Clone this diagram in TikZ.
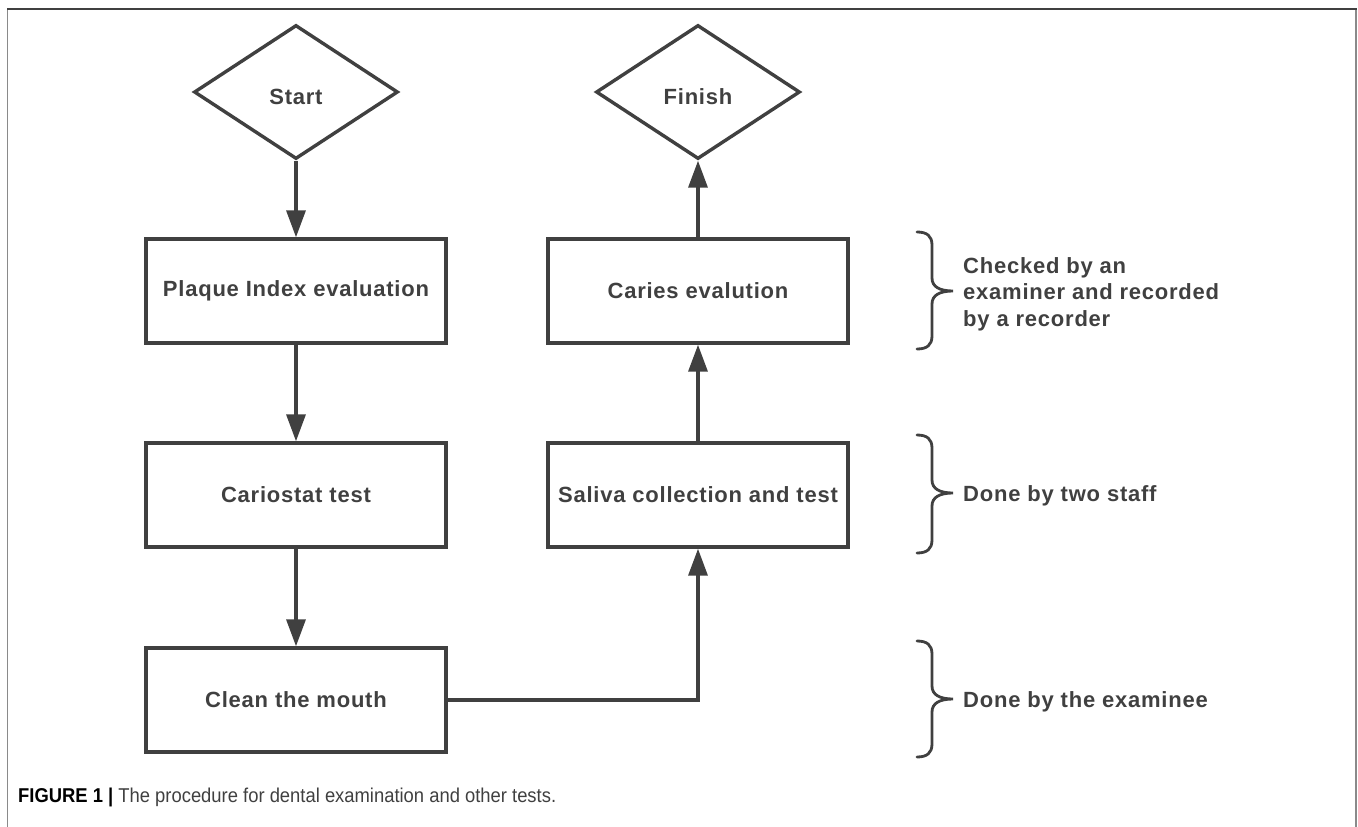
\documentclass[tikz,border=0pt]{standalone}
\usepackage{fontspec}
\setmainfont{Liberation Sans}
\newfontfamily\boxfont[LetterSpace=3.5]{Liberation Sans}
\newfontfamily\capfont[FakeStretch=0.92]{Liberation Sans}
\usetikzlibrary{shapes.geometric,arrows.meta}
\definecolor{dk}{HTML}{404040}
\definecolor{fr}{HTML}{8A8A8A}
\tikzset{
  procbox/.style={draw=dk, line width=3.4pt, minimum width=300pt, minimum height=104pt, inner sep=0pt,
    font=\boxfont\bfseries\fontsize{22}{26}\selectfont, text=dk},
  termbox/.style={diamond, draw=dk, line width=3.4pt, minimum width=204pt, minimum height=134pt, aspect=1.52, inner sep=0pt,
    font=\boxfont\bfseries\fontsize{22}{26}\selectfont, text=dk},
  conn/.style={draw=dk, line width=3.4pt},
  arr/.style={conn, -{Triangle[length=27pt,width=19pt]}},
  brace/.style={draw=dk, line width=2.8pt, line cap=round},
  lbl/.style={anchor=west, inner sep=0pt, align=left, text=dk,
    font=\boxfont\bfseries\fontsize{22}{26.5}\selectfont},
}
\begin{document}
\begin{tikzpicture}[x=1pt,y=-1pt]
\useasboundingbox (0,0) rectangle (1358,827);
% frame
\draw[fr, line width=1.8pt] (7.5,9) -- (7.5,827);
\draw[fr, line width=1.8pt] (1356,9) -- (1356,827);
\draw[dk, line width=1.8pt] (7,9) -- (1357,9);

% nodes
\node[termbox] (start) at (296,92) {};
\node[text=dk, font=\boxfont\bfseries\fontsize{22}{26}\selectfont] (starttxt) at (296,97) {Start};
\node[termbox] (finish) at (698,92) {};
\node[text=dk, font=\boxfont\bfseries\fontsize{22}{26}\selectfont] (finishtxt) at (698,97) {Finish};
\node[procbox] (plaque) at (296,291) {Plaque Index evaluation};
\node[procbox] (cario) at (296,495) {Cariostat test};
\node[procbox] (clean) at (296,700) {Clean the mouth};
\node[procbox] (caries) at (698,291) {Caries evalution};
\node[procbox] (saliva) at (698,495) {Saliva collection and test};

% connectors
\draw[arr] (start.south) -- (plaque.north);
\draw[arr] (plaque.south) -- (cario.north);
\draw[arr] (cario.south) -- (clean.north);
\draw[arr] (clean.east) -| (saliva.south);
\draw[arr] (saliva.north) -- (caries.south);
\draw[arr] (caries.north) -- (finish.south);

% braces
\draw[brace] (917,232) .. controls (927,232) and (932,236) .. (932,245) -- (932,278)
  .. controls (932,287) and (940,291) .. (953,291)
  .. controls (940,291) and (932,295) .. (932,304) -- (932,336)
  .. controls (932,345) and (927,349) .. (917,349);
\draw[brace] (917,435) .. controls (927,435) and (932,439) .. (932,448) -- (932,480)
  .. controls (932,489) and (940,493) .. (953,493)
  .. controls (940,493) and (932,497) .. (932,506) -- (932,540)
  .. controls (932,549) and (927,553) .. (917,553);
\draw[brace] (917,641) .. controls (927,641) and (932,645) .. (932,654) -- (932,686)
  .. controls (932,695) and (940,699) .. (953,699)
  .. controls (940,699) and (932,703) .. (932,712) -- (932,744)
  .. controls (932,753) and (927,757) .. (917,757);

% labels
\node[lbl] (l1) at (963,294) {Checked by an\\examiner and recorded\\by a recorder};
\node[lbl] (l2) at (963,496) {Done by two staff};
\node[lbl] (l3) at (963,702) {Done by the examinee};

% caption
\node[anchor=west, inner sep=0pt, font=\capfont\fontsize{20}{22}\selectfont] (cap) at (18,797)
  {\textcolor{black}{\bfseries FIGURE 1 |} \textcolor{dk}{The procedure for dental examination and other tests.}};
\end{tikzpicture}
\end{document}
